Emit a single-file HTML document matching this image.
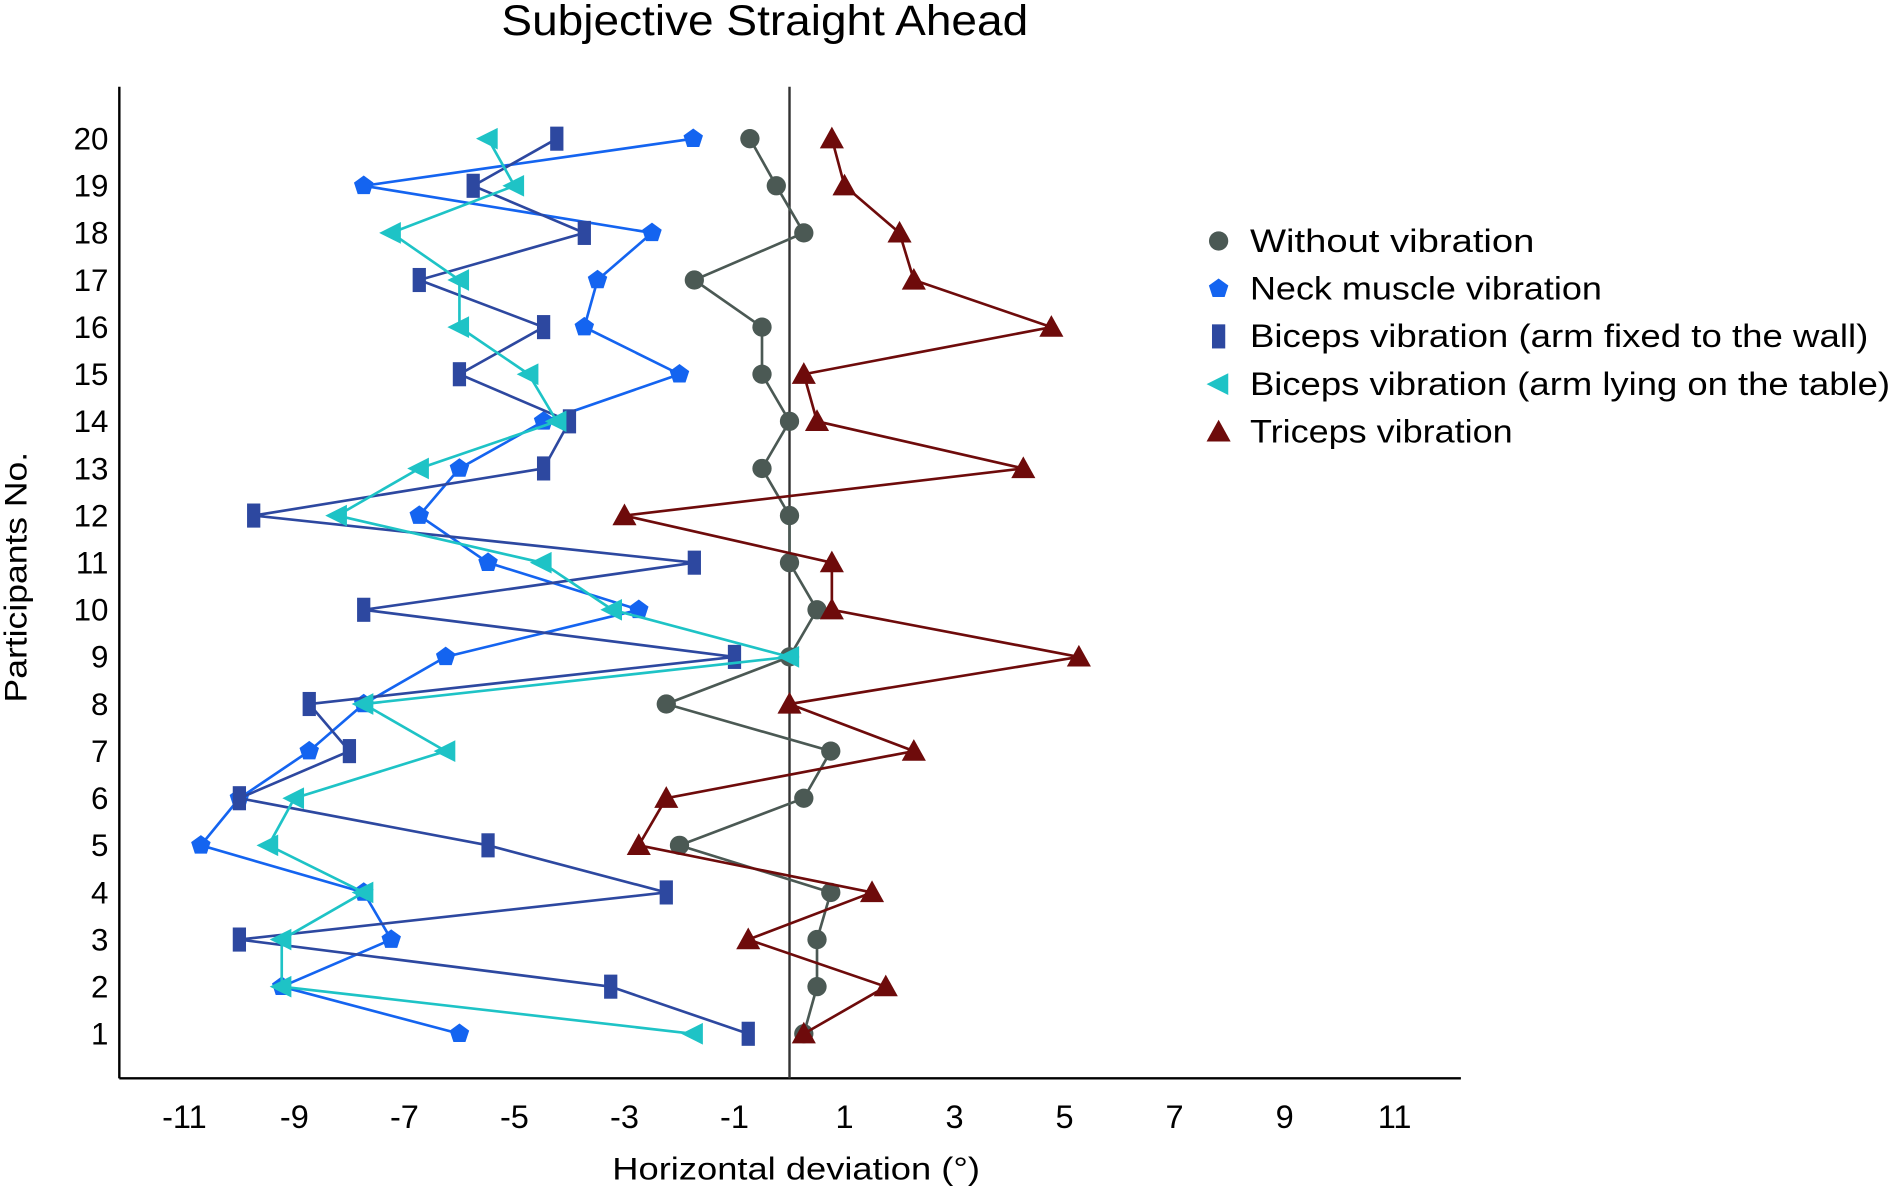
<!DOCTYPE html>
<html><head><meta charset="utf-8"><style>
html,body{margin:0;padding:0;background:#fff;}
svg{display:block;font-family:"Liberation Sans",sans-serif;}
</style></head><body>
<svg id="chart" width="1890" height="1188" viewBox="0 0 1568 986" preserveAspectRatio="none" xmlns="http://www.w3.org/2000/svg">
<text x="416" y="29" font-size="35" textLength="437" lengthAdjust="spacingAndGlyphs" fill="#000">Subjective Straight Ahead</text>
<g id="axes"></g>
<g id="series"></g>
<g id="legend"></g>
<text x="508" y="979" font-size="26" textLength="305" lengthAdjust="spacingAndGlyphs" fill="#000">Horizontal deviation (°)</text>
<text transform="translate(22,583) rotate(-90)" font-size="26" textLength="208" lengthAdjust="spacingAndGlyphs" fill="#000">Participants No.</text>
</svg>
<script>
const participants=[1,2,3,4,5,6,7,8,9,10,11,12,13,14,15,16,17,18,19,20];
const xTicks=[-11,-9,-7,-5,-3,-1,1,3,5,7,9,11];
const withoutVib=[0.26,0.5,0.5,0.75,-2,0.26,0.75,-2.24,0,0.5,0,0,-0.5,0,-0.5,-0.5,-1.73,0.26,-0.24,-0.72];
const neckVib=[-6,-9.23,-7.24,-7.74,-10.7,-10,-8.73,-7.74,-6.25,-2.74,-5.48,-6.73,-6,-4.47,-2,-3.73,-3.49,-2.5,-7.74,-1.75];
const bicepsWall=[-0.75,-3.25,-10,-2.24,-5.48,-10,-8,-8.73,-1,-7.74,-1.73,-9.74,-4.47,-4,-6,-4.47,-6.73,-3.73,-5.75,-4.23];
const bicepsTable=[-1.75,-9.23,-9.23,-7.74,-9.47,-9,-6.25,-7.74,0,-3.22,-4.5,-8.22,-6.73,-4.23,-4.74,-6,-6,-7.24,-5,-5.48];
const tricepsVib=[0.26,1.75,-0.75,1.5,-2.74,-2.24,2.26,0,5.26,0.77,0.77,-3,4.25,0.5,0.26,4.76,2.26,2,1,0.77];
const seriesNames=["Without vibration","Neck muscle vibration","Biceps vibration (arm fixed to the wall)","Biceps vibration (arm lying on the table)","Triceps vibration"];
const legendWidths=[236,292,513,531,218];

const NS="http://www.w3.org/2000/svg";
const xs=v=>655+v*45.64;
const ys=p=>858-(p-1)*39.1;
function mk(tag,attrs,parent){const e=document.createElementNS(NS,tag);for(const k in attrs)e.setAttribute(k,attrs[k]);parent.appendChild(e);return e;}
const axes=document.getElementById('axes');
let l=mk('line',{x1:99,y1:72,x2:99,y2:895,stroke:'#000','stroke-width':2},axes);


l=mk('line',{x1:99,y1:895,x2:1212,y2:895,stroke:'#000','stroke-width':2},axes);


l=mk('line',{x1:xs(0),y1:72,x2:xs(0),y2:895,stroke:'#333','stroke-width':2},axes);


xTicks.forEach(t=>{const tx=mk('text',{x:xs(t),y:936,'font-size':27,'text-anchor':'middle',fill:'#000'},axes);tx.textContent=String(t);

});
participants.forEach(p=>{const tx=mk('text',{x:90,y:ys(p)+9,'font-size':26,'text-anchor':'end',fill:'#000'},axes);tx.textContent=p;

});

function marker(type,x,y,c,parent){
  let e;
  if(type==='circle')e=mk('circle',{cx:x,cy:y,r:8,fill:c},parent);
  else if(type==='pent'){const pts=[];for(let i=0;i<5;i++){const a=-Math.PI/2+i*2*Math.PI/5;pts.push((x+8.5*Math.cos(a))+','+(y+8.5*Math.sin(a)));}e=mk('polygon',{points:pts.join(' '),fill:c},parent);}
  else if(type==='rect')e=mk('rect',{x:x-5.5,y:y-10,width:11,height:20,fill:c},parent);
  else if(type==='left')e=mk('polygon',{points:`${x-10},${y} ${x+8},${y-9} ${x+8},${y+9}`,fill:c},parent);
  else e=mk('polygon',{points:`${x},${y-10} ${x+10},${y+8} ${x-10},${y+8}`,fill:c},parent);
  return e;
}
const defs=[[withoutVib,'#4b5954','circle','without-vibration'],[neckVib,'#1464f0','pent','neck-vibration'],[bicepsWall,'#2d48a0','rect','biceps-wall'],[bicepsTable,'#1ec3c6','left','biceps-table'],[tricepsVib,'#6e0b0b','tri','triceps-vibration']];
const sg=document.getElementById('series');
defs.forEach(([vals,c,type,name])=>{
  const g=mk('g',{},sg);
  
  
  const pl=mk('polyline',{points:vals.map((v,i)=>xs(v)+','+ys(participants[i])).join(' '),fill:'none',stroke:c,'stroke-width':2.2},g);
  
  
  vals.forEach((v,i)=>{const m=marker(type,xs(v),ys(participants[i]),c,g);
    
    });
});
const lg=document.getElementById('legend');
defs.forEach(([vals,c,type,name],i)=>{
  const y=200+i*39.6;
  const g=mk('g',{},lg);
  
  
  marker(type,1011,y,c,g);
  const t=mk('text',{x:1037,y:y+9,'font-size':27,fill:'#000',textLength:legendWidths[i],lengthAdjust:'spacingAndGlyphs'},g);t.textContent=seriesNames[i];
});
</script>
</body></html>
